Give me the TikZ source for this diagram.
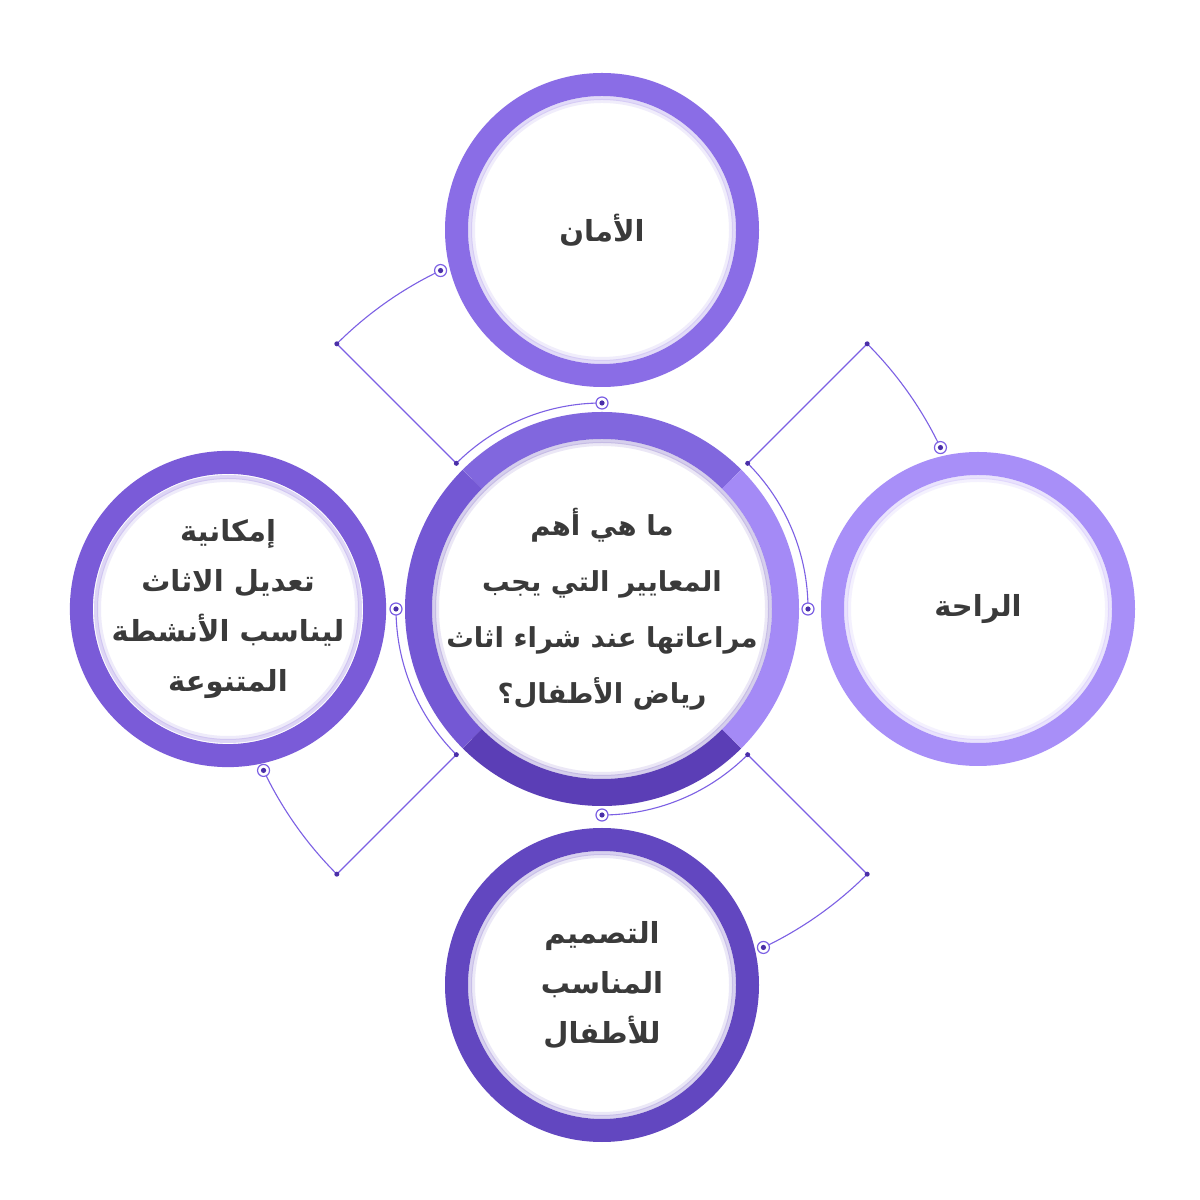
\documentclass[tikz,border=0pt]{standalone}
\usepackage{fontspec}
\newfontfamily\arabicfont[Script=Arabic]{DejaVu Sans}
\TeXXeTstate=1
\definecolor{cTop}{HTML}{8A6DE6}
\definecolor{cRight}{HTML}{A88FF8}
\definecolor{cLeft}{HTML}{7A5BD8}
\definecolor{cBot}{HTML}{6247C0}
\definecolor{kTop}{HTML}{8167DE}
\definecolor{kRight}{HTML}{A48AF6}
\definecolor{kBot}{HTML}{5B3EB6}
\definecolor{kLeft}{HTML}{7458D4}
\definecolor{lineC}{HTML}{7C60E4}
\definecolor{dotC}{HTML}{4A2FA8}
\definecolor{txt}{HTML}{3A3A3A}
\begin{document}
\begin{tikzpicture}[x=1pt,y=1pt,
  sat/.style={circle, fill=white, minimum size=291pt, inner sep=0pt, line width=23pt,
     text=txt, align=center, font=\arabicfont\bfseries\fontsize{29}{50}\selectfont},
  hub/.style={circle, fill=white, minimum size=367pt, inner sep=0pt,
     text=txt, align=center, font=\arabicfont\bfseries\fontsize{27.5}{56}\selectfont},
  conn/.style={draw=lineC, line width=1.1pt},
  marker/.style={circle, draw=lineC, fill=white, line width=1.2pt, minimum size=12pt, inner sep=0pt,
     path picture={\fill[dotC] (path picture bounding box.center) circle (2.6pt);}},
  cdot/.style={circle, fill=dotC, minimum size=5pt, inner sep=0pt},
]
\useasboundingbox (0,0) rectangle (1200,1200);
\fill[white] (0,0) rectangle (1200,1200);

% satellites
\node[sat, draw=cTop] (top) at (602,970) {\beginR الأمان\endR};
\node[sat, draw=cRight] (right) at (978,591) {\beginR الراحة\endR};
\node[sat, draw=cLeft] (left) at (228,591) {\beginR إمكانية\endR\\ \beginR تعديل الاثاث\endR\\ \beginR ليناسب الأنشطة\endR\\ \beginR المتنوعة\endR};
\node[sat, draw=cBot] (bottom) at (602,215) {\beginR التصميم\endR\\ \beginR المناسب\endR\\ \beginR للأطفال\endR};

% inner soft shadows of satellites
\foreach \n/\col in {top/cTop, right/cRight, left/cLeft, bottom/cBot}{
  \draw[\col, opacity=0.25, line width=4pt] (\n.center) circle (132);
  \draw[\col, opacity=0.12, line width=4pt] (\n.center) circle (129);
}

% hub
\node[hub] (hub) at (602,591) {\beginR ما هي أهم\endR\\ \beginR المعايير التي يجب\endR\\ \beginR مراعاتها عند شراء اثاث\endR\\ \beginR رياض الأطفال؟\endR};
\draw[kTop, line width=27pt] (hub.center) ++(45:183.5) arc[start angle=45, end angle=135, radius=183.5pt];
\draw[kLeft, line width=27pt] (hub.center) ++(135:183.5) arc[start angle=135, end angle=225, radius=183.5pt];
\draw[kBot, line width=27pt] (hub.center) ++(225:183.5) arc[start angle=225, end angle=315, radius=183.5pt];
\draw[kRight, line width=27pt] (hub.center) ++(315:183.5) arc[start angle=315, end angle=405, radius=183.5pt];
\draw[kBot, opacity=0.25, line width=4pt] (hub.center) circle (168);
\draw[kBot, opacity=0.12, line width=4pt] (hub.center) circle (165);

% connectors
\foreach \d/\nm in {135/tl, 45/tr, 225/bl, 315/br}{
  \path (hub.center) ++(\d:206) coordinate (\nm A);
  \path (hub.center) ++(\d:375) coordinate (\nm B);
  \path (hub.center) ++(\d-45:206) coordinate (\nm I);
  \path (hub.center) ++(\d-19.5:375) coordinate (\nm O);
  \draw[conn] (\nm A) arc[start angle=\d, end angle=\d-45, radius=206pt];
  \draw[conn] (\nm A) -- (\nm B);
  \draw[conn] (\nm B) arc[start angle=\d, end angle=\d-19.5, radius=375pt];
  \node[cdot] (\nm Ad) at (\nm A) {};
  \node[cdot] (\nm Bd) at (\nm B) {};
  \node[marker] (\nm Im) at (\nm I) {};
  \node[marker] (\nm Om) at (\nm O) {};
}
\end{tikzpicture}
\end{document}
